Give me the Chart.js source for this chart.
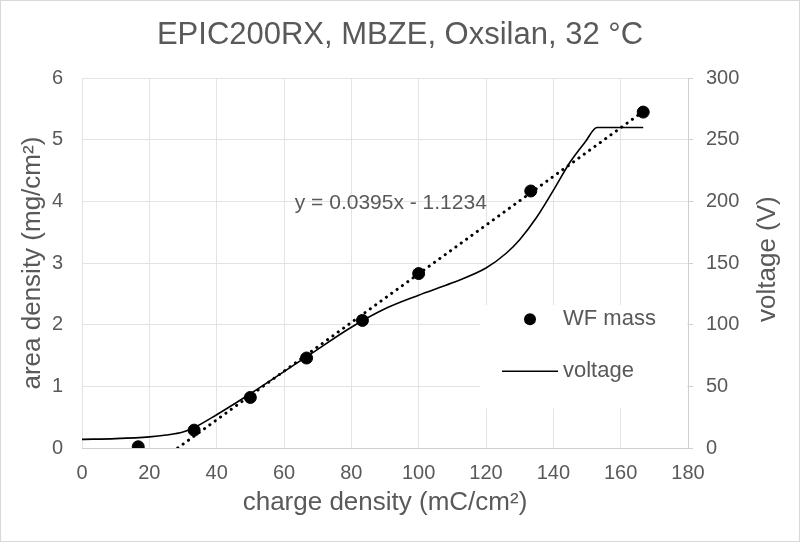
<!DOCTYPE html>
<html>
<head>
<meta charset="utf-8">
<script src="https://cdn.jsdelivr.net/npm/chart.js@4/dist/chart.umd.min.js"></script>
<style>
  html, body { margin: 0; padding: 0; background: #fff; }
  #chart { display: block; }
</style>
</head>
<body>
<canvas id="chart" width="800" height="542"></canvas>
<script>
// WF mass (area density) vs charge density
const massX = [16.7, 33.3, 50, 66.7, 83.3, 100, 133.3, 166.7];
const massY = [0.02, 0.29, 0.82, 1.46, 2.07, 2.83, 4.17, 5.45];

// voltage curve
const voltX = [0, 10, 20, 25, 30, 33.3, 40, 50, 60, 66.7, 80, 90, 100, 110, 120, 126, 130, 135, 140, 145, 149.4, 153, 166.7];
const voltY = [7, 7.6, 9, 10.5, 13, 16.5, 27, 44, 62, 74, 98, 113, 124, 134, 146, 158, 169, 187, 209, 232, 248, 260, 260];

// linear trendline of the mass (y = 0.0395x - 1.1234)
const trendX = [28.44, 166.7];
const trendY = [0, 5.46];
const trendLabel = "y = 0.0395x - 1.1234";

const xTicks = [0, 180, 20];
const leftTicks = [0, 6, 1];
const rightTicks = [0, 300, 50];

const grey = "#595959";
const gridCol = "#e3e3e3";
const fontFam = "'Liberation Sans', Arial, sans-serif";

const toPts = (xs, ys) => xs.map((x, i) => ({ x: x, y: ys[i] }));

// equation text, legend box inside the plot, right axis title, outer frame
const extras = {
    id: "extras",
    beforeDatasetsDraw(chart) {
        const { ctx, chartArea } = chart;
        ctx.save();
        ctx.fillStyle = "#fff";
        ctx.fillRect(chartArea.right - 208, chartArea.top + 227, 207, 103);
        ctx.restore();
    },
    afterDatasetsDraw(chart) {
        const { ctx, chartArea, scales } = chart;
        ctx.save();
        ctx.font = "21px " + fontFam;
        ctx.fillStyle = grey;
        ctx.textBaseline = "middle";
        ctx.textAlign = "left";
        ctx.fillText(trendLabel, scales.x.getPixelForValue(63.2), scales.y.getPixelForValue(3.97));

        // legend
        const lx = chartArea.right - 208;
        const ly = chartArea.top + 227;
        ctx.font = "22px " + fontFam;
        ctx.fillStyle = "#000";
        ctx.beginPath();
        ctx.arc(lx + 50, ly + 14, 6, 0, Math.PI * 2);
        ctx.fill();
        ctx.strokeStyle = "#000";
        ctx.lineWidth = 1.5;
        ctx.beginPath();
        ctx.moveTo(lx + 22, ly + 66);
        ctx.lineTo(lx + 78, ly + 66);
        ctx.stroke();
        ctx.fillStyle = grey;
        ctx.fillText("WF mass", lx + 83, ly + 14);
        ctx.fillText("voltage", lx + 83, ly + 66);

        // right axis title, reading bottom to top like Excel
        ctx.translate(768, (chartArea.top + chartArea.bottom) / 2 - 4);
        ctx.rotate(-Math.PI / 2);
        ctx.textAlign = "center";
        ctx.font = "26px " + fontFam;
        ctx.fillText("voltage (V)", 0, 0);
        ctx.restore();
    },
    afterDraw(chart) {
        const ctx = chart.ctx;
        ctx.save();
        ctx.strokeStyle = "#d9d9d9";
        ctx.lineWidth = 1;
        ctx.strokeRect(0.5, 0.5, chart.width - 1, chart.height - 1);
        ctx.restore();
    }
};

new Chart(document.getElementById("chart"), {
    type: "scatter",
    data: {
        datasets: [
            {
                label: "WF mass",
                data: toPts(massX, massY),
                yAxisID: "y",
                backgroundColor: "#000",
                borderColor: "#000",
                pointRadius: 6,
                order: 1
            },
            {
                label: "trend",
                type: "line",
                data: toPts(trendX, trendY),
                yAxisID: "y",
                borderColor: "#000",
                borderWidth: 3,
                borderDash: [0.1, 6.5],
                borderCapStyle: "round",
                pointRadius: 0,
                fill: false,
                order: 2
            },
            {
                label: "voltage",
                type: "line",
                data: toPts(voltX, voltY),
                yAxisID: "y1",
                borderColor: "#000",
                borderWidth: 1.6,
                pointRadius: 0,
                cubicInterpolationMode: "monotone",
                fill: false,
                order: 3
            }
        ]
    },
    options: {
        responsive: false,
        animation: false,
        layout: { padding: 0 },
        plugins: {
            legend: { display: false },
            tooltip: { enabled: false },
            title: {
                display: true,
                text: "EPIC200RX, MBZE, Oxsilan, 32 °C",
                color: grey,
                font: { family: fontFam, size: 31, weight: "normal" },
                padding: { top: 17, bottom: 24 }
            }
        },
        scales: {
            x: {
                type: "linear",
                min: xTicks[0], max: xTicks[1],
                ticks: { stepSize: xTicks[2], color: grey, padding: 13, font: { family: fontFam, size: 20 } },
                grid: { color: gridCol, drawTicks: false },
                border: { color: "#d0d0d0" },
                title: { display: true, text: "charge density (mC/cm²)", color: grey, padding: { top: 4, bottom: 24 }, font: { family: fontFam, size: 26 } },
                afterFit(s) { s.height = 94; }
            },
            y: {
                position: "left",
                min: leftTicks[0], max: leftTicks[1],
                ticks: { stepSize: leftTicks[2], color: grey, padding: 19, font: { family: fontFam, size: 20 } },
                grid: { color: gridCol, drawTicks: false },
                border: { display: false },
                title: { display: true, text: "area density (mg/cm²)", color: grey, padding: { top: 17, bottom: 4 }, font: { family: fontFam, size: 26 } },
                afterFit(s) { s.width = 82; }
            },
            y1: {
                position: "right",
                min: rightTicks[0], max: rightTicks[1],
                ticks: { stepSize: rightTicks[2], color: grey, padding: 13, font: { family: fontFam, size: 20 } },
                grid: { drawOnChartArea: false, drawTicks: true, tickLength: 5, color: "#d0d0d0" },
                border: { color: "#d0d0d0" },
                afterFit(s) { s.width = 112; }
            }
        }
    },
    plugins: [extras]
});
</script>
</body>
</html>
